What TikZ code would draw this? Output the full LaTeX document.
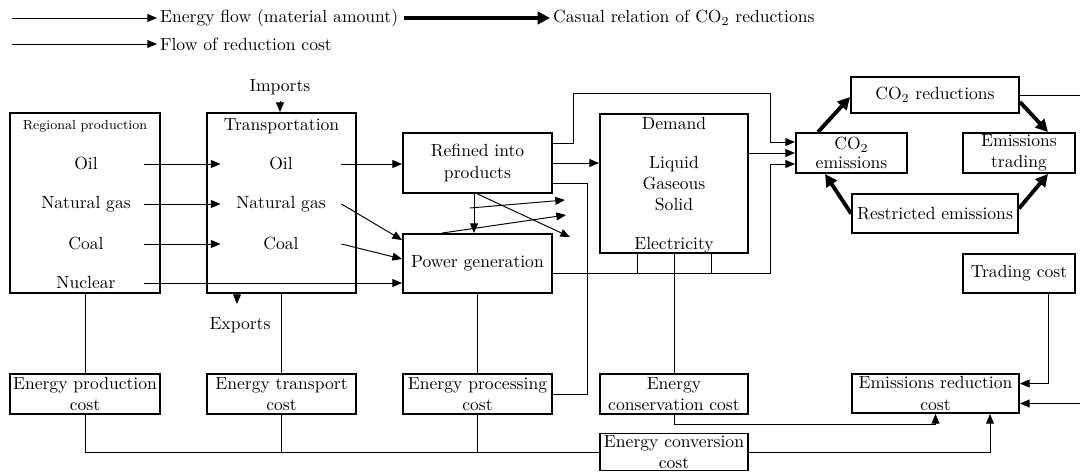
\documentclass[tikz,border=0pt]{standalone}
\usetikzlibrary{arrows.meta,calc}
\tikzset{
  box/.style={draw,line width=1.1pt,inner sep=0pt,align=center,minimum width=3cm,minimum height=0.8cm},
  item/.style={inner sep=0pt,minimum width=2.3cm},
  flow/.style={-{Triangle[length=5.5pt,width=4.5pt]}},
  causal/.style={-{Triangle[length=7pt,width=7pt]},line width=2.2pt}
}
\begin{document}
\begin{tikzpicture}[x=0.02cm,y=-0.02cm,line width=0.55pt]
      \useasboundingbox (0,0) rectangle (1080,473);
      \node[anchor=west,inner sep=1.5pt] (lgflow) at (157,18) {Energy flow (material amount)};
      \node[anchor=west,inner sep=1.5pt] (lgcausal) at (550,18) {Casual relation of CO$_2$ reductions};
      \node[anchor=west,inner sep=1.5pt] (lgcost) at (157,44) {Flow of reduction cost};
      \coordinate (lga) at (12,18);
      \coordinate (lgb) at (404,18);
      \coordinate (lgc) at (12,44);

      \node[box,minimum height=3.6cm] (regprod) at (85,203) {};
      \node[inner sep=0pt,font=\fontsize{7.5}{9}\selectfont] (regtitle) at (85,126) {Regional production};
      \node[item] (rpoil) at (86,164) {Oil};
      \node[item] (rpgas) at (86,204) {Natural gas};
      \node[item] (rpcoal) at (86,244) {Coal};
      \node[item] (rpnuc) at (86,283) {Nuclear};

      \node[box,minimum width=2.98cm,minimum height=3.6cm] (transp) at (281.5,203) {};
      \node[inner sep=0pt] (tptitle) at (281.5,126) {Transportation};
      \node[item,minimum width=2.4cm] (tpoil) at (281,164) {Oil};
      \node[item,minimum width=2.4cm] (tpgas) at (281,204) {Natural gas};
      \node[item,minimum width=2.4cm] (tpcoal) at (281,244) {Coal};
      \node (imports) at (280,87) {Imports};
      \node (exports) at (240,325) {Exports};
      \coordinate (expt) at (237,304);

      \node[box,minimum width=2.98cm,minimum height=1.2cm] (refined) at (477.5,163) {Refined into\\products};
      \node[box,minimum width=2.98cm,minimum height=1.18cm] (powergen) at (477.5,263.5) {Power generation};

      \node[box,minimum width=2.96cm,minimum height=2.78cm] (demand) at (674,183.5) {};
      \node[inner sep=0pt] (dmtitle) at (674,124) {Demand};
      \node[inner sep=0pt,align=center] (dmfuel) at (674,184) {Liquid\\Gaseous\\Solid};
      \node[inner sep=0pt] (dmelec) at (674,245) {Electricity};

      \node[box,minimum width=2.22cm] (co2em) at (851.5,153) {\raisebox{-3pt}{\shortstack{CO$_2$\\emissions}}};
      \node[box,minimum width=3.36cm,minimum height=0.72cm] (co2red) at (935,95) {CO$_2$ reductions};
      \node[box,minimum width=2.24cm] (emtrade) at (1019,153) {Emissions\\trading};
      \node[box,minimum width=3.32cm,minimum height=0.78cm] (restr) at (935,213.5) {Restricted emissions};
      \node[box,minimum width=2.24cm,minimum height=0.78cm] (tradcost) at (1019,273.5) {Trading cost};
      \node[box,minimum width=3.34cm,minimum height=0.78cm] (emredcost) at (935.5,393.5) {Emissions reduction\\cost};

      \node[box] (prodcost) at (85,394) {Energy production\\cost};
      \node[box,minimum width=2.98cm] (transcost) at (281.5,394) {Energy transport\\cost};
      \node[box,minimum width=2.98cm] (proccost) at (477.5,394) {Energy processing\\cost};
      \node[box,minimum width=2.96cm] (conscost) at (674,394) {Energy\\conservation cost};
      \node[box,minimum width=2.96cm,minimum height=0.74cm] (convcost) at (674,452) {Energy conversion\\cost};
      \coordinate (rstubtop) at (1080,95);
      \coordinate (rstub) at (1080,403.5);

      \draw[flow] (lga) -- (lgflow.west);
      \draw[causal] (lgb) -- (lgcausal.west);
      \draw[flow] (lgc) -- (lgcost.west);

      \draw[flow] (imports.south) -- (imports.south |- transp.north);
      \draw[flow] (expt |- transp.south) -- (expt);
      \draw[flow] (rpoil.east) -- (tpoil.west);
      \draw[flow] (rpgas.east) -- (tpgas.west);
      \draw[flow] (rpcoal.east) -- (tpcoal.west);
      \draw[flow] (rpnuc.east) -- (rpnuc.east -| powergen.west);
      \draw[flow] (tpoil.east) -- (tpoil.east -| refined.west);
      \draw[flow] (tpgas.east) -- ($(powergen.north west)+(0,7)$);
      \draw[flow] (tpcoal.east) -- ($(powergen.west)+(0,-4.5)$);
      \draw[flow] (refined.east) -- (refined.east -| demand.west);
      \draw[flow] ($(refined.south)+(-3.5,0)$) -- ($(powergen.north)+(-3.5,0)$);

      \coordinate (crossa) at (470,208);
      \coordinate (crossb) at (565,200);
      \coordinate (crossc) at (566,215);
      \coordinate (crossd) at (570,237);
      \draw[flow] (crossa) -- (crossb);
      \draw[flow] ($(powergen.north west)+(40,0)$) -- (crossc);
      \draw[flow] (refined.south) -- (crossd);

      \draw[flow] ($(refined.east)+(0,-20)$) -- ++(21,0) -- ++(0,-50) -- ++(197,0) |- ($(co2em.west)+(0,-11)$);
      \draw[flow] (demand.east |- co2em.west) -- (co2em.west);
      \draw[flow] ($(powergen.east)+(0,9.5)$) -- ++(218,0) |- ($(co2em.west)+(0,11)$);
      \draw ($(demand.south)+(-37,0)$) -- ++(0,20);
      \draw ($(demand.south)+(37,0)$) -- ++(0,20);
      \draw (demand.south) -- (conscost.north);
      \draw (proccost.east) -- ++(35,0) |- ($(refined.east)+(0,20)$);

      \draw[causal] ($(co2em.north west)+(23,0)$) -- ($(co2red.west)+(0,2)$);
      \draw[causal] ($(co2red.east)+(0,7)$) -- ($(emtrade.north)+(29,0)$);
      \draw[causal] (restr.west) -- ($(co2em.south west)+(30,0)$);
      \draw[causal] ($(restr.east)+(0,-5)$) -- ($(emtrade.south)+(29,0)$);
      \draw (co2red.east) -- (rstubtop);

      \draw (regprod.south) -- (prodcost.north);
      \draw (transp.south) -- (transcost.north);
      \draw (powergen.south) -- (proccost.north);
      \draw (prodcost.south) |- (convcost.west);
      \draw (transcost.south) -- (transcost.south |- convcost.west);
      \draw (proccost.south) -- (proccost.south |- convcost.west);
      \draw[flow] (convcost.east) -| ($(emredcost.south)+(54.5,0)$);
      \draw[flow] (conscost.south) -- ++(0,10) -| (emredcost.south);
      \draw[flow] ($(tradcost.south)+(29,0)$) |- ($(emredcost.east)+(0,-10)$);
      \draw[flow] (rstub) -- ($(emredcost.east)+(0,10)$);
    \end{tikzpicture}
\end{document}
